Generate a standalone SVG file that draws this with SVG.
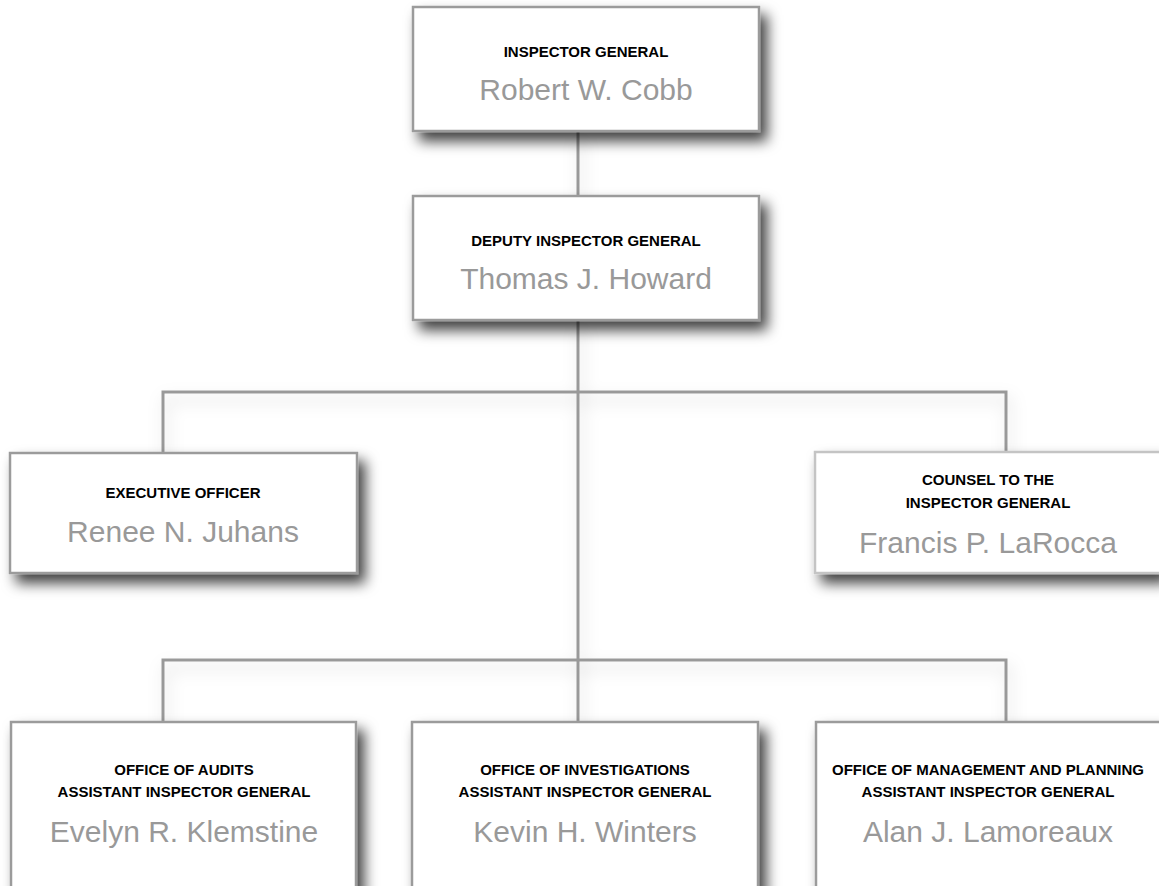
<svg xmlns="http://www.w3.org/2000/svg" width="1159" height="886" viewBox="0 0 1159 886">
<defs>
<filter id="boxShadow" x="-10%" y="-10%" width="130%" height="150%">
<feDropShadow dx="7" dy="9" stdDeviation="7" flood-color="#000" flood-opacity="0.75"/>
</filter>
<filter id="lineShadow" x="-10%" y="-50%" width="130%" height="200%">
<feDropShadow dx="3" dy="8" stdDeviation="8" flood-color="#000" flood-opacity="0.18"/>
</filter>
</defs>
<style>
.box{fill:#fff;stroke:#9b9b9b;stroke-width:2.5}
.light{stroke:#c4c4c4}
.title{font-family:"Liberation Sans",Arial,sans-serif;font-weight:bold;font-size:15px;fill:#000;text-anchor:middle}
.name{font-family:"Liberation Sans",Arial,sans-serif;font-size:30px;fill:#999;text-anchor:middle}
.conn{fill:none;stroke:#999;stroke-width:3}
</style>
<rect width="1159" height="886" fill="#fff"/>
<g id="connectors" filter="url(#lineShadow)">
<path class="conn" d="M578 131 V196"/>
<path class="conn" d="M578 320 V722"/>
<path class="conn" d="M163 453 V392 H1006 V452"/>
<path class="conn" d="M163 722 V660 H1006 V722"/>
</g>
<g id="inspector-general">
<rect class="box" x="413" y="7" width="346" height="124" filter="url(#boxShadow)"/>
<text class="title" x="586" y="57">INSPECTOR GENERAL</text>
<text class="name" x="586" y="100">Robert W. Cobb</text>
</g>
<g id="deputy-inspector-general">
<rect class="box" x="413" y="196" width="346" height="124" filter="url(#boxShadow)"/>
<text class="title" x="586" y="246">DEPUTY INSPECTOR GENERAL</text>
<text class="name" x="586" y="289">Thomas J. Howard</text>
</g>
<g id="executive-officer">
<rect class="box" x="10" y="453" width="347" height="120" filter="url(#boxShadow)"/>
<text class="title" x="183" y="498">EXECUTIVE OFFICER</text>
<text class="name" x="183" y="542">Renee N. Juhans</text>
</g>
<g id="counsel">
<rect class="box light" x="815" y="452" width="346" height="121" filter="url(#boxShadow)"/>
<text class="title" x="988" y="485">COUNSEL TO THE</text>
<text class="title" x="988" y="508">INSPECTOR GENERAL</text>
<text class="name" x="988" y="553">Francis P. LaRocca</text>
</g>
<g id="office-of-audits">
<rect class="box" x="11" y="722" width="345" height="200" filter="url(#boxShadow)"/>
<text class="title" x="184" y="775">OFFICE OF AUDITS</text>
<text class="title" x="184" y="797">ASSISTANT INSPECTOR GENERAL</text>
<text class="name" x="184" y="842">Evelyn R. Klemstine</text>
</g>
<g id="office-of-investigations">
<rect class="box" x="412" y="722" width="346" height="200" filter="url(#boxShadow)"/>
<text class="title" x="585" y="775">OFFICE OF INVESTIGATIONS</text>
<text class="title" x="585" y="797">ASSISTANT INSPECTOR GENERAL</text>
<text class="name" x="585" y="842">Kevin H. Winters</text>
</g>
<g id="office-of-management">
<rect class="box" x="816" y="722" width="345" height="200" filter="url(#boxShadow)"/>
<text class="title" x="988" y="775">OFFICE OF MANAGEMENT AND PLANNING</text>
<text class="title" x="988" y="797">ASSISTANT INSPECTOR GENERAL</text>
<text class="name" x="988" y="842">Alan J. Lamoreaux</text>
</g>
</svg>
